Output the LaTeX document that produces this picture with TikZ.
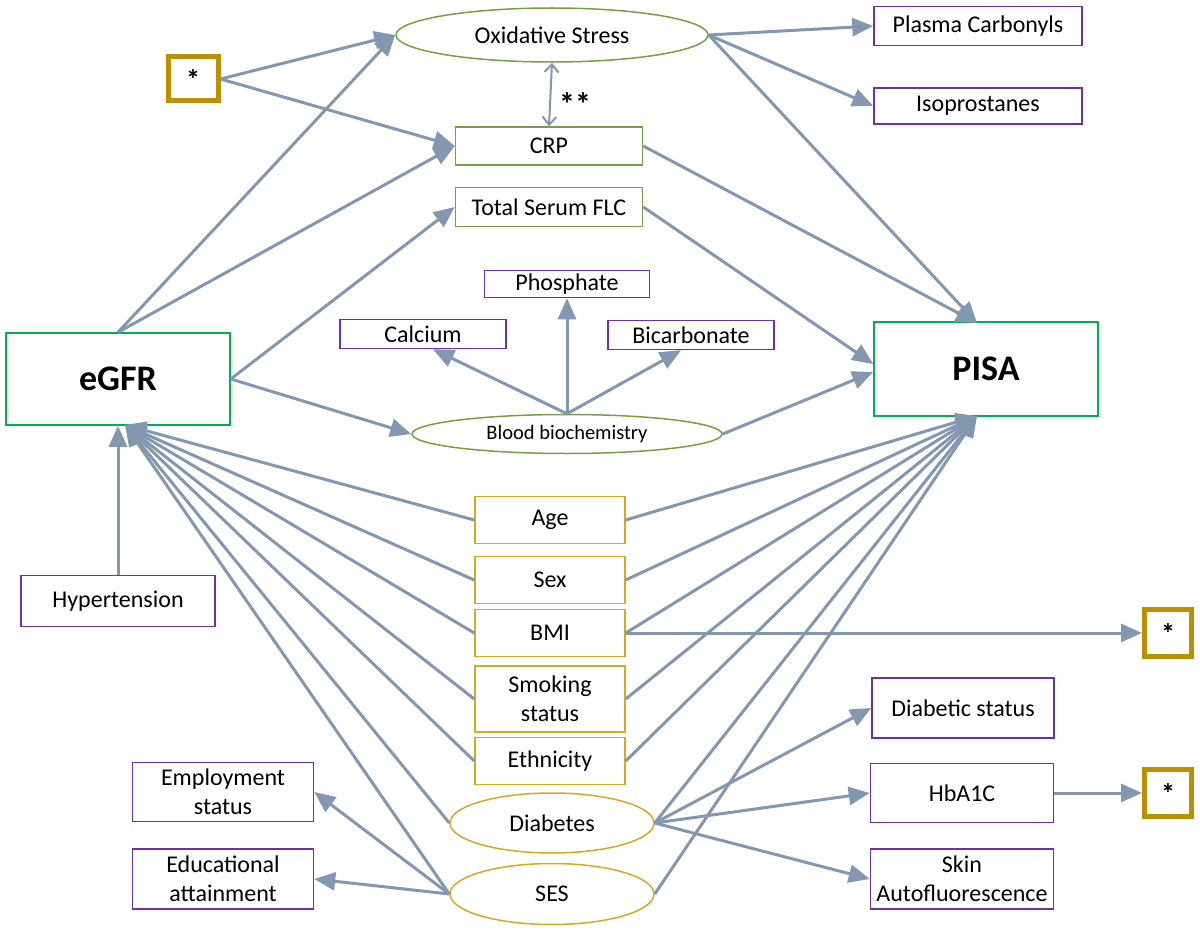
\documentclass[tikz,border=0pt]{standalone}
\usepackage{fontspec}
\setmainfont{Carlito}
\usetikzlibrary{shapes.geometric,arrows.meta}
\definecolor{lc}{HTML}{8497B0}
\definecolor{pur}{HTML}{7030A0}
\definecolor{grn}{HTML}{00B050}
\definecolor{oli}{HTML}{77A040}
\definecolor{gld}{HTML}{DDA520}
\definecolor{gldk}{HTML}{BF8F00}
\begin{document}
\begin{tikzpicture}[x=1pt,y=-1pt,
  box/.style={draw, rectangle, inner sep=1pt, align=center, font=\fontsize{24}{29}\selectfont, line width=1.5pt},
  pbox/.style={box, draw=pur},
  gbox/.style={box, draw=gld},
  obox/.style={box, draw=oli},
  bigbox/.style={box, draw=grn, font=\bfseries\fontsize{36}{40}\selectfont},
  starbox/.style={draw=gldk, line width=5pt, rectangle, inner sep=0pt, font=\bfseries\fontsize{28}{30}\selectfont},
  ell/.style={ellipse, draw, inner sep=0pt, line width=1.5pt, font=\fontsize{24}{29}\selectfont},
  arr/.style={draw=lc, line width=3pt, -{Triangle[length=21pt,width=18pt]}},
  dbl/.style={draw=lc, line width=2pt, {Straight Barb[length=8pt,width=14pt]}-{Straight Barb[length=8pt,width=14pt]}}
]
\useasboundingbox (0,0) rectangle (1200,931);

% nodes
\node[ell, draw=oli, minimum width=312pt, minimum height=54pt] (ox) at (552,35) {Oxidative Stress};
\node[starbox, minimum width=50pt, minimum height=44pt] (sa) at (193,79) {*};
\node[obox, minimum width=187pt, minimum height=38pt] (crp) at (549,146) {CRP};
\node[obox, minimum width=187pt, minimum height=39pt] (flc) at (549,207) {Total Serum FLC};
\node[pbox, minimum width=165pt, minimum height=27pt] (phos) at (567,284) {Phosphate};
\node[pbox, minimum width=166pt, minimum height=29pt] (calc) at (423,334) {Calcium};
\node[pbox, minimum width=166pt, minimum height=29pt] (bic) at (691,335) {Bicarbonate};
\node[ell, draw=oli, minimum width=310pt, minimum height=39pt, font=\fontsize{20.5}{24}\selectfont] (blood) at (567,434) {Blood biochemistry};
\node[bigbox, minimum width=224pt, minimum height=92pt] (egfr) at (118,379) {eGFR};
\node[bigbox, minimum width=224pt, minimum height=94pt] (pisa) at (986,369) {PISA};
\node[pbox, minimum width=208pt, minimum height=39pt] (plasma) at (978,26) {Plasma Carbonyls};
\node[pbox, minimum width=208pt, minimum height=36pt] (iso) at (978,106) {Isoprostanes};
\node[pbox, minimum width=194pt, minimum height=51pt] (hyp) at (118,601) {Hypertension};
\node[gbox, minimum width=150pt, minimum height=47pt] (age) at (550,520) {Age};
\node[gbox, minimum width=150pt, minimum height=47pt] (sex) at (550,580) {Sex};
\node[gbox, minimum width=150pt, minimum height=47pt] (bmi) at (550,633) {BMI};
\node[gbox, minimum width=150pt, minimum height=66pt] (smk) at (550,699) {Smoking\\status};
\node[gbox, minimum width=150pt, minimum height=47pt] (eth) at (550,761) {Ethnicity};
\node[ell, draw=gld, minimum width=204pt, minimum height=60pt] (diab) at (552,823) {Diabetes};
\node[ell, draw=gld, minimum width=204pt, minimum height=61pt] (ses) at (552,894) {SES};
\node[pbox, minimum width=181pt, minimum height=59pt] (emp) at (223,792) {Employment\\status};
\node[pbox, minimum width=181pt, minimum height=60pt] (edu) at (223,879) {Educational\\attainment};
\node[pbox, minimum width=182pt, minimum height=60pt] (dst) at (963,708) {Diabetic status};
\node[pbox, minimum width=183pt, minimum height=59pt] (hba) at (962,793) {HbA1C};
\node[pbox, minimum width=183pt, minimum height=60pt] (skin) at (962,879) {Skin\\Autofluorescence};
\node[starbox, minimum width=47pt, minimum height=47pt] (sb) at (1168,633) {*};
\node[starbox, minimum width=47pt, minimum height=47pt] (sc) at (1168,793) {*};
\node[font=\bfseries\fontsize{32}{34}\selectfont] (ss) at (575,104) {**};

\coordinate (eb) at (125,425);
\coordinate (pt) at (977,323);
\coordinate (pb) at (977,416);

% connectors
\draw[arr] (egfr.north) -- (ox.west);
\draw[arr] (sa.east) -- (ox.west);
\draw[arr] (sa.east) -- (crp.west);
\draw[arr] (egfr.north) -- (crp.west);
\draw[arr] (egfr.east) -- (flc.west);
\draw[arr] (egfr.east) -- (blood.west);
\draw[dbl] (ox.south) -- (crp.north);
\draw[arr] (ox.east) -- (plasma.west);
\draw[arr] (ox.east) -- (iso.west);
\draw[arr] (ox.east) -- (pt);
\draw[arr] (crp.east) -- (pt);
\draw[arr] (flc.east) -- ([yshift=5pt]pisa.west);
\draw[arr] (blood.east) -- ([yshift=-3pt]pisa.west);
\draw[arr] (blood.north) -- ([xshift=10pt]calc.south);
\draw[arr] (blood.north) -- (phos.south);
\draw[arr] (blood.north) -- ([xshift=-10pt]bic.south);
\draw[arr] (hyp.north) -- (egfr.south);
\foreach \n in {age,sex,bmi,smk,eth,diab,ses} {
  \draw[arr] (\n.west) -- (eb);
  \draw[arr] (\n.east) -- (pb);
}
\draw[arr] (bmi.east) -- (sb.west);
\draw[arr] (hba.east) -- (sc.west);
\draw[arr] (diab.east) -- (dst.west);
\draw[arr] (diab.east) -- (hba.west);
\draw[arr] (diab.east) -- (skin.west);
\draw[arr] (ses.west) -- (emp.east);
\draw[arr] (ses.west) -- (edu.east);
\end{tikzpicture}
\end{document}
